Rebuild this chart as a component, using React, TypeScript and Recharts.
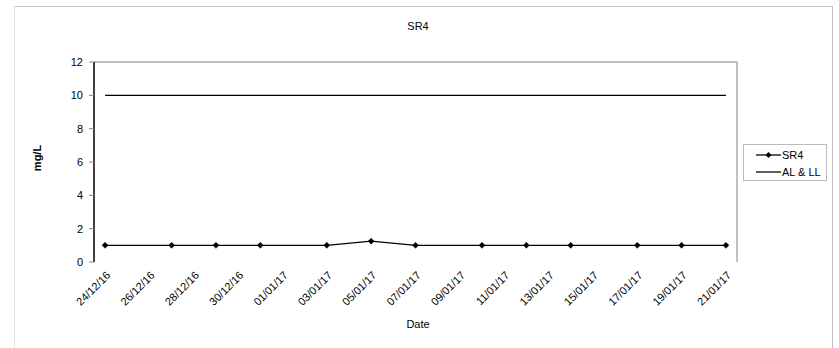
import React from 'react';
import { LineChart, Line, XAxis, YAxis, ReferenceLine } from 'recharts';

// ---- data ----
const axisStart = '24/12/16';
const axisEnd = '22/01/17';
const sampleDates = ['24/12/16', '27/12/16', '29/12/16', '31/12/16', '03/01/17', '05/01/17', '07/01/17', '10/01/17', '12/01/17', '14/01/17', '17/01/17', '19/01/17', '21/01/17'];
const sr4Values = [1, 1, 1, 1, 1, 1.25, 1, 1, 1, 1, 1, 1, 1];
const limitValues = [10, 10, 10, 10, 10, 10, 10, 10, 10, 10, 10, 10, 10];
const tickDates = ['24/12/16', '26/12/16', '28/12/16', '30/12/16', '01/01/17', '03/01/17', '05/01/17', '07/01/17', '09/01/17', '11/01/17', '13/01/17', '15/01/17', '17/01/17', '19/01/17', '21/01/17'];
const yTicks = [0, 2, 4, 6, 8, 10, 12];
const seriesNames = ['SR4', 'AL & LL'];

const parse = (s: string) => {
  const [d, m, y] = s.split('/').map(Number);
  return Date.UTC(2000 + y, m - 1, d);
};
const DAY = 86400000;
const dayOf = (s: string) => (parse(s) - parse(axisStart)) / DAY;
const axisLen = dayOf(axisEnd);

const data = sampleDates.map((d, i) => ({ x: dayOf(d) + 0.5, date: d, sr4: sr4Values[i], al: limitValues[i] }));
const markTicks = tickDates.map((d) => dayOf(d));
const labelTicks = tickDates.map((d) => dayOf(d) + 0.5);
const labelMap: Record<string, string> = {};
tickDates.forEach((d) => { labelMap[String(dayOf(d) + 0.5)] = d; });

const FONT = '"Liberation Sans", Arial, sans-serif';

const Diamond = (props: any) => {
  const { cx, cy } = props;
  if (cx == null || cy == null) return <g />;
  const r = 3;
  return <path d={`M${cx},${cy - r}L${cx + r},${cy}L${cx},${cy + r}L${cx - r},${cy}Z`} fill="#000" stroke="#000" strokeWidth={0.5} />;
};

const DateTick = (props: any) => {
  const { x, y, payload } = props;
  const label = labelMap[String(payload.value)] ?? '';
  return (
    <g transform={`translate(${x + 6},${y + 14}) rotate(-45)`}>
      <text x={0} y={0} textAnchor="end" fontSize={11} fontFamily={FONT} fill="#000">{label}</text>
    </g>
  );
};

const LegendBox = () => (
  <div style={{ width: 82, height: 35, border: '1px solid #bbb', background: '#fff', fontFamily: FONT, fontSize: 11, color: '#000', boxSizing: 'content-box' }}>
    <div style={{ display: 'flex', alignItems: 'center', height: 17, marginTop: 1 }}>
      <svg width={38} height={10} style={{ display: 'block' }}>
        <line x1={12} y1={5} x2={37} y2={5} stroke="#000" strokeWidth={1.25} />
        <path d="M24.5,2L27.5,5L24.5,8L21.5,5Z" fill="#000" />
      </svg>
      <span>{seriesNames[0]}</span>
    </div>
    <div style={{ display: 'flex', alignItems: 'center', height: 17 }}>
      <svg width={38} height={10} style={{ display: 'block' }}>
        <line x1={12} y1={5} x2={37} y2={5} stroke="#000" strokeWidth={1.25} />
      </svg>
      <span>{seriesNames[1]}</span>
    </div>
  </div>
);

export default function App() {
  return (
    <div style={{ position: 'absolute', left: 0, top: 0, width: 839, height: 348, overflow: 'hidden', background: '#fff' }}>
      <div style={{ position: 'absolute', left: 14, top: 6, width: 817, height: 400, borderTop: '1px solid #c8c8c8', borderLeft: '1px solid #e0e0e0', borderRight: '1px solid #bdbdbd' }} />
      <div style={{ position: 'absolute', left: 0, top: 0 }}>
        <LineChart width={839} height={348} data={data} margin={{ top: 62, right: 102, left: 0, bottom: 16 }}>
          <XAxis xAxisId="marks" dataKey="x" type="number" domain={[0, axisLen]} ticks={markTicks} allowDataOverflow
            height={0} tickSize={5} tick={() => <g />} axisLine={{ stroke: '#000', strokeWidth: 1.5 }} tickLine={{ stroke: '#888' }} interval={0} />
          <XAxis xAxisId="labels" dataKey="x" type="number" domain={[0, axisLen]} ticks={labelTicks} allowDataOverflow
            height={70} tickSize={0} tickMargin={0} axisLine={false} tickLine={false} tick={<DateTick />} interval={0} />
          <YAxis type="number" domain={[0, 12]} ticks={yTicks} width={94} tickSize={5} tickMargin={6}
            axisLine={{ stroke: '#000', strokeWidth: 1.5 }} tickLine={{ stroke: '#888' }}
            tick={{ fontSize: 11, fontFamily: FONT, fill: '#000' }} interval={0} />
          <ReferenceLine xAxisId="marks" y={12} stroke="#aaa" strokeWidth={1.5} />
          <ReferenceLine xAxisId="marks" x={axisLen} stroke="#aaa" strokeWidth={1.5} />
          <Line xAxisId="marks" dataKey="al" name={seriesNames[1]} stroke="#000" strokeWidth={1.25} dot={false} isAnimationActive={false} />
          <Line xAxisId="marks" dataKey="sr4" name={seriesNames[0]} stroke="#000" strokeWidth={1.25} dot={<Diamond />} isAnimationActive={false} />
        </LineChart>
      </div>
      <div style={{ position: 'absolute', left: 743, top: 144 }}><LegendBox /></div>
      <div style={{ position: 'absolute', left: 368, width: 100, top: 20, textAlign: 'center', fontFamily: FONT, fontSize: 11 }}>SR4</div>
      <div style={{ position: 'absolute', left: 368, width: 100, top: 318, textAlign: 'center', fontFamily: FONT, fontSize: 11 }}>Date</div>
      <div style={{ position: 'absolute', left: 18, top: 151, width: 40, height: 14, textAlign: 'center', fontFamily: FONT, fontSize: 11, fontWeight: 'bold', transform: 'rotate(-90deg)' }}>mg/L</div>
    </div>
  );
}
